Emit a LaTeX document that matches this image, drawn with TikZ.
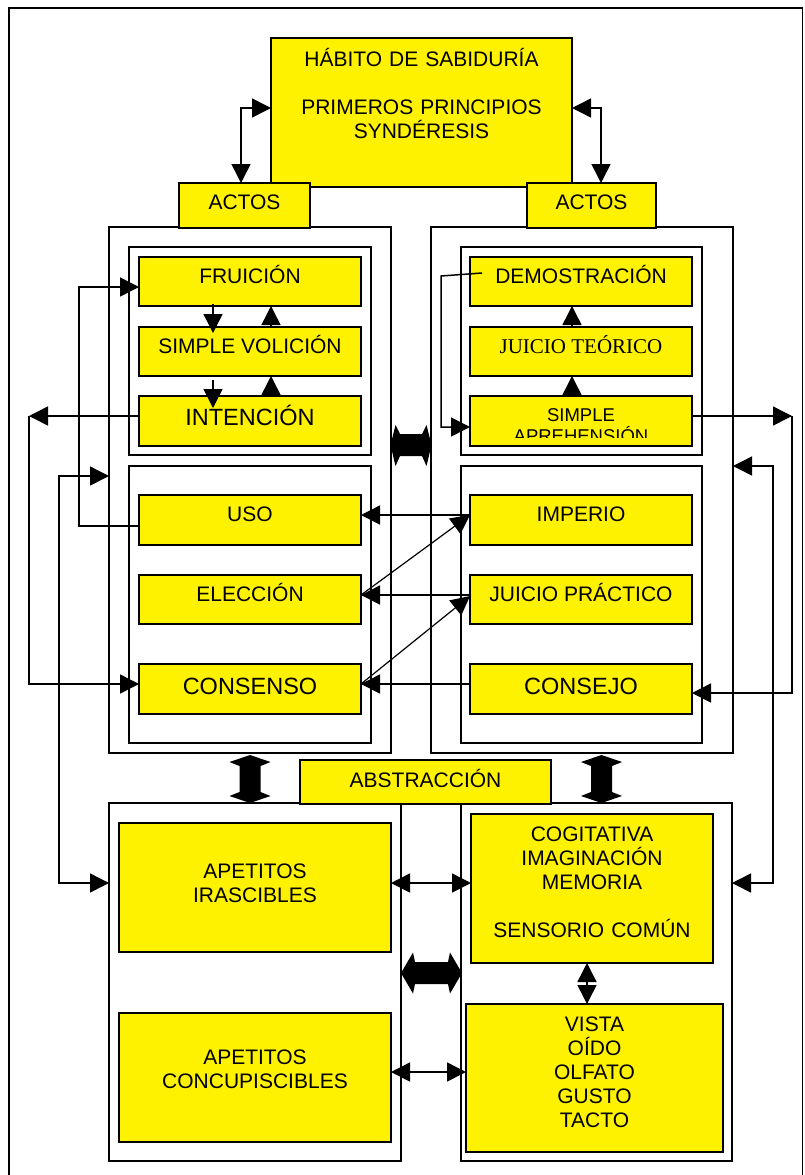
\documentclass[tikz,border=0pt]{standalone}
\usepackage{fontspec}
\setmainfont{Liberation Sans}
\newfontfamily\serifrm{Liberation Serif}
\usetikzlibrary{arrows.meta,calc}
\tikzset{
  ybox/.style={draw=black, line width=1.3pt, fill=yellow, inner sep=0pt, outer sep=0pt,
    font=\fontsize{21}{24}\selectfont},
  bigtxt/.style={font=\fontsize{23.5}{27}\selectfont},
  cont/.style={draw=black, line width=1.6pt, inner sep=0pt, outer sep=0pt},
  arr/.style={line width=1.5pt, -{Triangle[length=19pt,width=19pt]}},
  darr/.style={line width=1.5pt, {Triangle[length=19pt,width=19pt]}-{Triangle[length=19pt,width=19pt]}},
  fat/.style={fill=black},
}
\begin{document}
\begin{tikzpicture}[x=1pt,y=-1pt]
\useasboundingbox (0,0) rectangle (804,1175);
% outer frame
\draw[line width=1.5pt] (9,1180) -- (9,8) -- (802.5,8) -- (802.5,1180);

% containers
\node[cont, minimum width=282pt, minimum height=526pt] (cL) at (250,490) {};
\node[cont, minimum width=242pt, minimum height=208pt] (cLu) at (250,351) {};
\node[cont, minimum width=242pt, minimum height=277pt] (cLl) at (250,604.5) {};
\node[cont, minimum width=302pt, minimum height=526pt] (cR) at (582,490) {};
\node[cont, minimum width=241pt, minimum height=208pt] (cRu) at (581.5,351) {};
\node[cont, minimum width=241pt, minimum height=277pt] (cRl) at (581.5,604.5) {};
\node[cont, minimum width=292pt, minimum height=358pt] (bL) at (255,982) {};
\node[cont, minimum width=271pt, minimum height=358pt] (bR) at (596.5,982) {};

% top
\node[ybox, minimum width=301pt, minimum height=149pt, text width=295pt, align=center,
  text height=15pt, text depth=107pt] (hab) at (421.5,112.5)
  {HÁBITO DE SABIDURÍA\\[24pt]PRIMEROS PRINCIPIOS\\SYNDÉRESIS};
\node[ybox, minimum width=131pt, minimum height=45pt, text height=14pt, text depth=6pt] (actL) at (244.5,205.5) {ACTOS};
\node[ybox, minimum width=129pt, minimum height=45pt, text height=14pt, text depth=6pt] (actR) at (591.5,205.5) {ACTOS};

% left upper
\node[ybox, minimum width=222pt, minimum height=49pt, text height=12pt, text depth=8pt] (fru) at (250,281.5) {FRUICIÓN};
\node[ybox, minimum width=222pt, minimum height=49pt, text height=12pt, text depth=8pt] (svol) at (250,351.5) {SIMPLE VOLICIÓN};
\node[ybox, bigtxt, minimum width=222pt, minimum height=50pt, text height=14.4pt, text depth=5.6pt] (int) at (250,421) {INTENCIÓN};
% right upper
\node[ybox, minimum width=222pt, minimum height=49pt, text height=12pt, text depth=8pt] (dem) at (581,281.5) {DEMOSTRACIÓN};
\node[ybox, minimum width=222pt, minimum height=49pt, text height=11.5pt, text depth=8.5pt,
  font=\serifrm\fontsize{21}{24}\selectfont] (jt) at (581,351.5) {JUICIO TEÓRICO};
\node[ybox, minimum width=222pt, minimum height=50pt] (sap) at (581,421) {};
\begin{scope}
  \clip (471,397) rectangle (691,437);
  \node[font=\fontsize{18.5}{21}\selectfont, text width=210pt, align=center, inner sep=0pt, anchor=base]
    (saptxt) at (581,421) {SIMPLE\\APREHENSIÓN};
\end{scope}
% left lower
\node[ybox, minimum width=222pt, minimum height=50pt, text height=11.5pt, text depth=8.5pt] (uso) at (250,520) {USO};
\node[ybox, minimum width=222pt, minimum height=49pt, text height=12pt, text depth=8pt] (ele) at (250,599.5) {ELECCIÓN};
\node[ybox, bigtxt, minimum width=222pt, minimum height=50pt, text height=15.4pt, text depth=4.6pt] (cons) at (250,689) {CONSENSO};
% right lower
\node[ybox, minimum width=222pt, minimum height=50pt, text height=11.5pt, text depth=8.5pt] (imp) at (581,520) {IMPERIO};
\node[ybox, minimum width=222pt, minimum height=49pt, text height=12pt, text depth=8pt] (jp) at (581,599.5) {JUICIO PRÁCTICO};
\node[ybox, bigtxt, minimum width=222pt, minimum height=50pt, text height=15.4pt, text depth=4.6pt] (csj) at (581,689) {CONSEJO};

% bottom
\node[ybox, minimum width=251pt, minimum height=44pt, text height=15.5pt, text depth=4.5pt] (abs) at (425.5,782) {ABSTRACCIÓN};
\node[ybox, minimum width=272pt, minimum height=129pt, text width=260pt, align=center,
  text height=15pt, text depth=33pt] (ira) at (255,887.5) {APETITOS\\IRASCIBLES};
\node[ybox, minimum width=272pt, minimum height=129pt, text width=260pt, align=center,
  text height=15pt, text depth=41pt] (conc) at (255,1077.5) {APETITOS\\CONCUPISCIBLES};
\node[ybox, minimum width=242pt, minimum height=149pt, text width=236pt, align=center,
  text height=15pt, text depth=109pt] (cog) at (592,888.5) {COGITATIVA\\IMAGINACIÓN\\MEMORIA\\[24pt]SENSORIO COMÚN};
\node[ybox, minimum width=257pt, minimum height=148pt, text width=250pt, align=center,
  text height=15pt, text depth=108pt] (vis) at (594.5,1078) {VISTA\\OÍDO\\OLFATO\\GUSTO\\TACTO};

% connectors top
\draw[darr] (hab.west |- 0,108) -| (actL.north -| 241,0);
\draw[darr] (hab.east |- 0,108) -| (actR.north -| 601,0);

% left side
\draw[arr] (uso.west |- 0,526) -- (79,526) |- (fru.west |- 0,287);
\coordinate (cI) at (29,416);
\draw[arr] (int.west |- cI) -- (cI);
\draw[arr] (cI) |- (cons.west |- 0,684);
\draw[darr] (cL.west |- 0,476) -- (59,476) |- (bL.west |- 0,883);

% right side
\coordinate (dS) at (482,273);
\draw[arr] (dS) -- (441,276) |- (sap.west |- 0,427);
\coordinate (cS) at (792,416);
\draw[arr] (sap.east |- cS) -- (cS);
\draw[arr] (cS) |- (csj.east |- 0,693);
\draw[darr] (cR.east |- 0,466) -- (773,466) |- (bR.east |- 0,883);

% middle
\draw[arr] (imp.west |- 0,515) -- (uso.east |- 0,515);
\draw[arr] (jp.west |- 0,595) -- (ele.east |- 0,595);
\draw[arr] (csj.west |- 0,684) -- (cons.east |- 0,684);
\draw[arr, line width=1.2pt] (ele.east |- 0,595) -- (imp.west |- 0,515);
\draw[arr, line width=1.2pt] (cons.east |- 0,684) -- (jp.west |- 0,596);

% small vertical arrows
\draw[arr] ($(fru.south -| 213,0)+(0,-2)$) -- ($(svol.north -| 213,0)+(0,6)$);
\draw[arr] (svol.north -| 271,0) -- (fru.south -| 271,0);
\draw[arr] ($(svol.south -| 213,0)+(0,4)$) -- ($(int.north -| 213,0)+(0,12)$);
\draw[arr] (int.north -| 271,0) -- (svol.south -| 271,0);
\draw[arr] (jt.north -| 572,0) -- (dem.south -| 572,0);
\draw[arr] (sap.north -| 572,0) -- (jt.south -| 572,0);

% bottom connectors
\draw[darr] (ira.east |- 0,883) -- (cog.west |- 0,883);
\draw[darr] (conc.east |- 0,1072) -- (vis.west |- 0,1072);
\draw[darr] (cog.south -| 587,0) -- (vis.north -| 587,0);

% fat double arrows
\fill[fat] (250,755) -- (270.5,762) -- (260.5,766) -- (260.5,792) -- (270.5,796) -- (250,803)
  -- (229.5,796) -- (239.5,792) -- (239.5,766) -- (229.5,762) -- cycle;
\fill[fat] (601.5,755) -- (622,762) -- (612,766) -- (612,792) -- (622,796) -- (601.5,803)
  -- (581,796) -- (591,792) -- (591,766) -- (581,762) -- cycle;
\fill[fat] (390.5,445) -- (395.5,425) -- (400,434) -- (422,434) -- (426.5,425) -- (431.5,445)
  -- (426.5,466) -- (422,456) -- (400,456) -- (395.5,466) -- cycle;
\fill[fat] (401,973) -- (413,952.5) -- (415,962) -- (448,962) -- (450,952.5) -- (462,973)
  -- (450,993.5) -- (448,984) -- (415,984) -- (413,993.5) -- cycle;
\end{tikzpicture}
\end{document}
